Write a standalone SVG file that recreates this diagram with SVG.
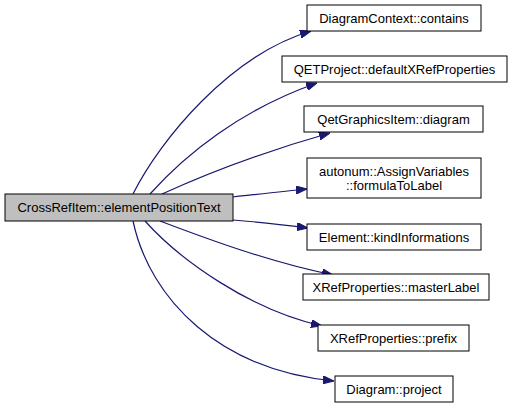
<svg xmlns="http://www.w3.org/2000/svg" width="512" height="408" viewBox="0 0 512 408">
<style>
.n rect{fill:#ffffff;stroke:#000000;stroke-width:1}
.n.main rect{fill:#bfbfbf}
.n text{font-family:"Liberation Sans",Arial,Helvetica,sans-serif;font-size:13px;fill:#000000;text-anchor:middle}
.e path{fill:none;stroke:#191970;stroke-width:1.2;marker-end:url(#ah)}
</style>
<defs>
<marker id="ah" viewBox="0 0 11 8" refX="11" refY="4" markerWidth="11" markerHeight="8" markerUnits="userSpaceOnUse" orient="auto">
<path d="M0,0 L11,4 L0,8 z" fill="#191970" stroke="#191970"/>
</marker>
</defs>
<g id="edges" class="e">
<path d="M133,194 C160,140 230,55 311,31"/>
<path d="M150,194 C185,155 240,110 317,83"/>
<path d="M162,194 C210,172 270,150 330,133"/>
<path d="M233,197 C260,194 285,191 307,189"/>
<path d="M233,220 C260,222 285,225 308,228"/>
<path d="M160,221 C210,240 270,262 333,275"/>
<path d="M145,221 C180,260 250,310 322,326"/>
<path d="M133,221 C150,300 220,370 334,381"/>
</g>
<g id="node0" class="n main"><rect x="5" y="194" width="228" height="27"/><text x="119" y="212">CrossRefItem::elementPositionText</text></g>
<g id="node1" class="n"><rect x="307" y="5" width="174" height="26"/><text x="394" y="22.5">DiagramContext::contains</text></g>
<g id="node2" class="n"><rect x="282" y="56" width="225" height="26"/><text x="394.5" y="73.5">QETProject::defaultXRefProperties</text></g>
<g id="node3" class="n"><rect x="304" y="106" width="179" height="26"/><text x="393.5" y="123.5">QetGraphicsItem::diagram</text></g>
<g id="node4" class="n"><rect x="307" y="158" width="174" height="40"/><text x="394" y="176">autonum::AssignVariables</text><text x="394" y="190">::formulaToLabel</text></g>
<g id="node5" class="n"><rect x="307" y="224" width="174" height="26"/><text x="394" y="241.5">Element::kindInformations</text></g>
<g id="node6" class="n"><rect x="303" y="274" width="186" height="26"/><text x="396" y="291.5">XRefProperties::masterLabel</text></g>
<g id="node7" class="n"><rect x="318" y="325" width="151" height="26"/><text x="393.5" y="342.5">XRefProperties::prefix</text></g>
<g id="node8" class="n"><rect x="335" y="376" width="118" height="26"/><text x="394" y="393.5">Diagram::project</text></g>
</svg>
